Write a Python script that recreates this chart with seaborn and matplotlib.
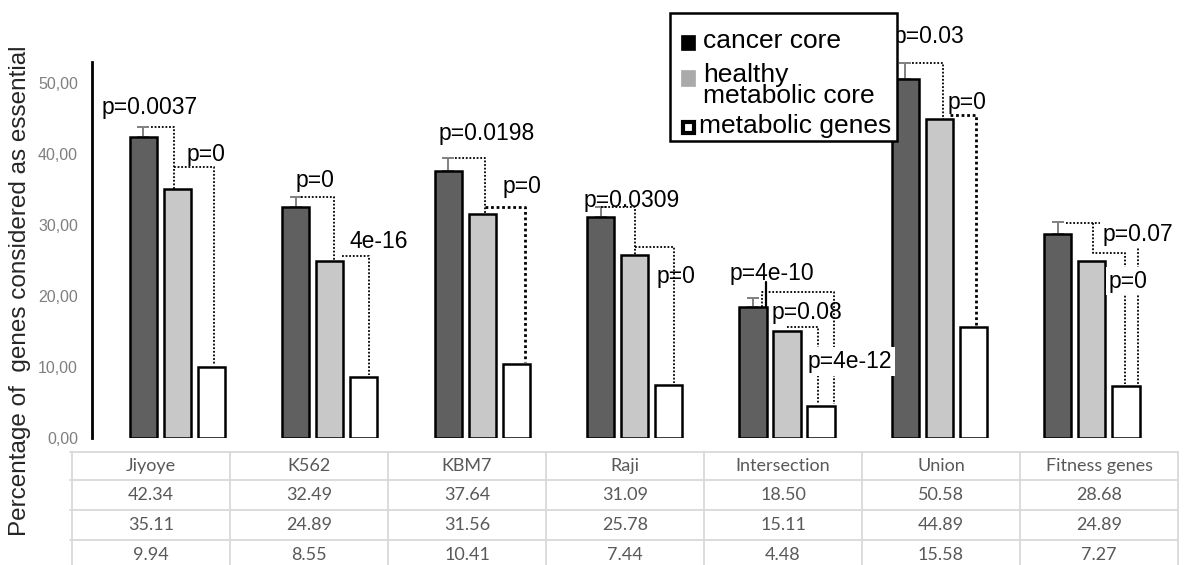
import numpy as np
import pandas as pd
import matplotlib
matplotlib.use("Agg")
import matplotlib.pyplot as plt
import seaborn as sns
from matplotlib.patches import Rectangle

# ---------------- data ----------------
categories = ["Jiyoye", "K562", "KBM7", "Raji", "Intersection", "Union", "Fitness genes"]
series_names = ["cancer core", "healthy\nmetabolic core", "metabolic genes"]
cancer_core = [42.34, 32.49, 37.64, 31.09, 18.50, 50.58, 28.68]
healthy_core = [35.11, 24.89, 31.56, 25.78, 15.11, 44.89, 24.89]
metabolic_genes = [9.94, 8.55, 10.41, 7.44, 4.48, 15.58, 7.27]
cancer_err = [1.4, 1.4, 1.8, 1.4, 1.2, 2.2, 1.7]
y_ticks = [0, 10, 20, 30, 40, 50]
y_tick_labels = ["0,00", "10,00", "20,00", "30,00", "40,00", "50,00"]
y_label = "Percentage of  genes considered as essential"

p_groups = [0, 0, 1, 1, 2, 2, 3, 3, 4, 4, 4, 5, 5, 6, 6]
p_texts = ["p=0.0037", "p=0", "p=0", "4e-16", "p=0.0198", "p=0", "p=0.0309", "p=0",
           "p=4e-10", "p=0.08", "p=4e-12", "p=0.03", "p=0", "p=0.07", "p=0"]

# ---------------- layout (annotation placement) ----------------
# (dx from group centre, y, white mask)
p_layout = [(-0.18, 46.5, False), (0.19, 39.9, False),
            (-0.10, 36.2, False), (0.32, 27.7, False),
            (0.03, 42.9, False), (0.26, 35.4, False),
            (-0.02, 33.5, False), (0.27, 22.7, False),
            (-0.10, 23.1, False), (0.13, 17.7, False), (0.41, 10.8, True),
            (-0.07, 56.5, False), (0.18, 47.2, False),
            (0.30, 28.7, True), (0.24, 22.1, True)]
# bracket polylines: group, [(dx, y or key)], linewidth, style
# keys: c=cap, t=cancer top, h=healthy top, m=metabolic top
DOT = (0, (1, 1))
brackets = [
    (0, [(-0.17, 'c'), (-0.02, 'c'), (-0.02, 'h')], 1.3, DOT),
    (0, [(-0.02, 38.2), (0.24, 38.2), (0.24, 'm')], 1.3, DOT),
    (1, [(-0.19, 'c'), (0.03, 'c'), (0.03, 'h')], 1.3, DOT),
    (1, [(0.08, 25.6), (0.26, 25.6), (0.26, 'm')], 1.3, DOT),
    (2, [(-0.18, 'c'), (0.02, 'c'), (0.02, 'h')], 1.3, DOT),
    (2, [(0.02, 32.5), (0.28, 32.5), (0.28, 'm')], 2.0, DOT),
    (3, [(-0.22, 'c'), (0.0, 'c'), (0.0, 'h')], 1.3, DOT),
    (3, [(0.0, 26.9), (0.26, 26.9), (0.26, 'm')], 1.3, DOT),
    (4, [(-0.165, 't'), (-0.165, 20.6), (0.31, 20.6), (0.31, 'm')], 1.3, DOT),
    (4, [(0.0, 15.6), (0.20, 15.6), (0.20, 'm')], 1.3, DOT),
    (4, [(-0.14, 22.0), (-0.14, 't')], 1.6, '-'),
    (5, [(-0.18, 'c'), (0.02, 'c'), (0.02, 'h')], 1.3, DOT),
    (5, [(0.07, 45.5), (0.24, 45.5), (0.24, 'm')], 2.0, DOT),
    (6, [(-0.17, 30.3), (0.30, 30.3), (0.30, 'm')], 1.3, DOT),
    (6, [(0.01, 30.3), (0.01, 26.1), (0.22, 26.1), (0.22, 'm')], 1.3, DOT),
]

sns.set_style("white")
plt.rcParams['font.family'] = ['Liberation Sans', 'DejaVu Sans']

W, H = 1194, 565
fig = plt.figure(figsize=(W / 100, H / 100), dpi=100)

ax_left, ax_right, ax_bottom, ax_top = 92, 1178, 438, 26
ax = fig.add_axes([ax_left / W, (H - ax_bottom) / H, (ax_right - ax_left) / W, (ax_bottom - ax_top) / H])

df = pd.DataFrame({
    "category": categories * 3,
    "series": [series_names[0]] * 7 + [series_names[1]] * 7 + [series_names[2]] * 7,
    "value": cancer_core + healthy_core + metabolic_genes,
})
palette = {series_names[0]: "#606060", series_names[1]: "#c8c8c8", series_names[2]: "#ffffff"}
sns.barplot(data=df, x="category", y="value", hue="series", order=categories,
            hue_order=series_names, palette=palette, saturation=1, width=0.67, gap=0.2,
            errorbar=None, edgecolor="black", linewidth=1.8, legend=False, ax=ax, zorder=2)

dark_x = [p.get_x() + p.get_width() / 2 for p in ax.containers[0].patches]
ax.errorbar(dark_x, cancer_core, yerr=[np.zeros(len(cancer_core)), cancer_err], fmt='none',
            ecolor="#808080", elinewidth=1.4, capsize=4, capthick=1.4, zorder=1)

ax.set_xlim(-0.56, 6.565)
ax.set_ylim(0, 58)
ax.set_xticks([])
ax.set_xlabel("")
ax.set_ylabel("")
ax.set_yticks(y_ticks)
ax.set_yticklabels(y_tick_labels, color="#7f7f7f", fontsize=11.5)
ax.tick_params(axis='y', length=0, pad=10)
for s in ["top", "right", "bottom"]:
    ax.spines[s].set_visible(False)
ax.spines["left"].set_color("black")
ax.spines["left"].set_linewidth(2)
ax.spines["left"].set_bounds(0, 53)

# brackets
for g, pts, lw, ls in brackets:
    xs, ys = [], []
    for dx, y in pts:
        if y == 'c':
            y = cancer_core[g] + cancer_err[g]
        elif y == 't':
            y = cancer_core[g]
        elif y == 'h':
            y = healthy_core[g]
        elif y == 'm':
            y = metabolic_genes[g] + 0.3
        xs.append(g + dx)
        ys.append(y)
    ax.plot(xs, ys, color="black", lw=lw, linestyle=ls, zorder=3, clip_on=False)

for g, t, (dx, y, mask) in zip(p_groups, p_texts, p_layout):
    kw = {}
    if mask:
        kw["bbox"] = dict(facecolor="white", edgecolor="none", pad=2)
    ax.text(g + dx, y, t, ha="center", va="center", fontsize=16.5, color="black",
            zorder=4, clip_on=False, **kw)

# y label
fig.text(20 / W, 1 - 291 / H, y_label, rotation=90, ha="center", va="center", fontsize=17.5)

# data table below
tab_left, tab_right, tab_top = 72, 1178, 452
tax = fig.add_axes([tab_left / W, 0, (tab_right - tab_left) / W, (H - tab_top) / H])
tax.set_xlim(0, len(categories))
tax.set_ylim(H - tab_top, 0)
tax.axis("off")
line_c = "#d9d9d9"
for yb in [0, 28, 58, 88]:
    tax.plot([-0.012, len(categories)], [yb, yb], color=line_c, lw=1.3, clip_on=False)
for xb in range(len(categories) + 1):
    tax.plot([xb, xb], [0, H - tab_top], color=line_c, lw=1.3, clip_on=False)
row_centers = [14, 43, 73, 103]
tfont = dict(ha="center", va="center", fontsize=13, color="#595959", family=["Lato", "DejaVu Sans"])
for i, cat in enumerate(categories):
    tax.text(i + 0.5, row_centers[0], cat, **tfont)
    for r, series in enumerate([cancer_core, healthy_core, metabolic_genes]):
        tax.text(i + 0.5, row_centers[r + 1], f"{series[i]:.2f}", **tfont)

# legend (drawn in pixel coordinates on an overlay)
oax = fig.add_axes([0, 0, 1, 1], zorder=5)
oax.set_xlim(0, W)
oax.set_ylim(H, 0)
oax.axis("off")
oax.add_patch(Rectangle((670, 13), 227, 128, facecolor="white", edgecolor="black", lw=1.8))
swatches = [((681, 35), 14, 15, "black", "black", 0.5),
            ((681, 70), 14, 16, "#aaaaaa", "#aaaaaa", 0.5),
            ((682.5, 121.5), 11.5, 11.5, "white", "black", 3.0)]
for (xy, w, h, fc, ec, lw) in swatches:
    oax.add_patch(Rectangle(xy, w, h, facecolor=fc, edgecolor=ec, lw=lw))
oax.text(703, 48, series_names[0], ha="left", va="baseline", fontsize=19, color="black")
oax.text(703, 108, series_names[1], ha="left", va="bottom", fontsize=19, color="black",
         linespacing=0.82)
oax.text(699, 133, series_names[2], ha="left", va="baseline", fontsize=19, color="black")

fig.savefig("out.png", dpi=100)
